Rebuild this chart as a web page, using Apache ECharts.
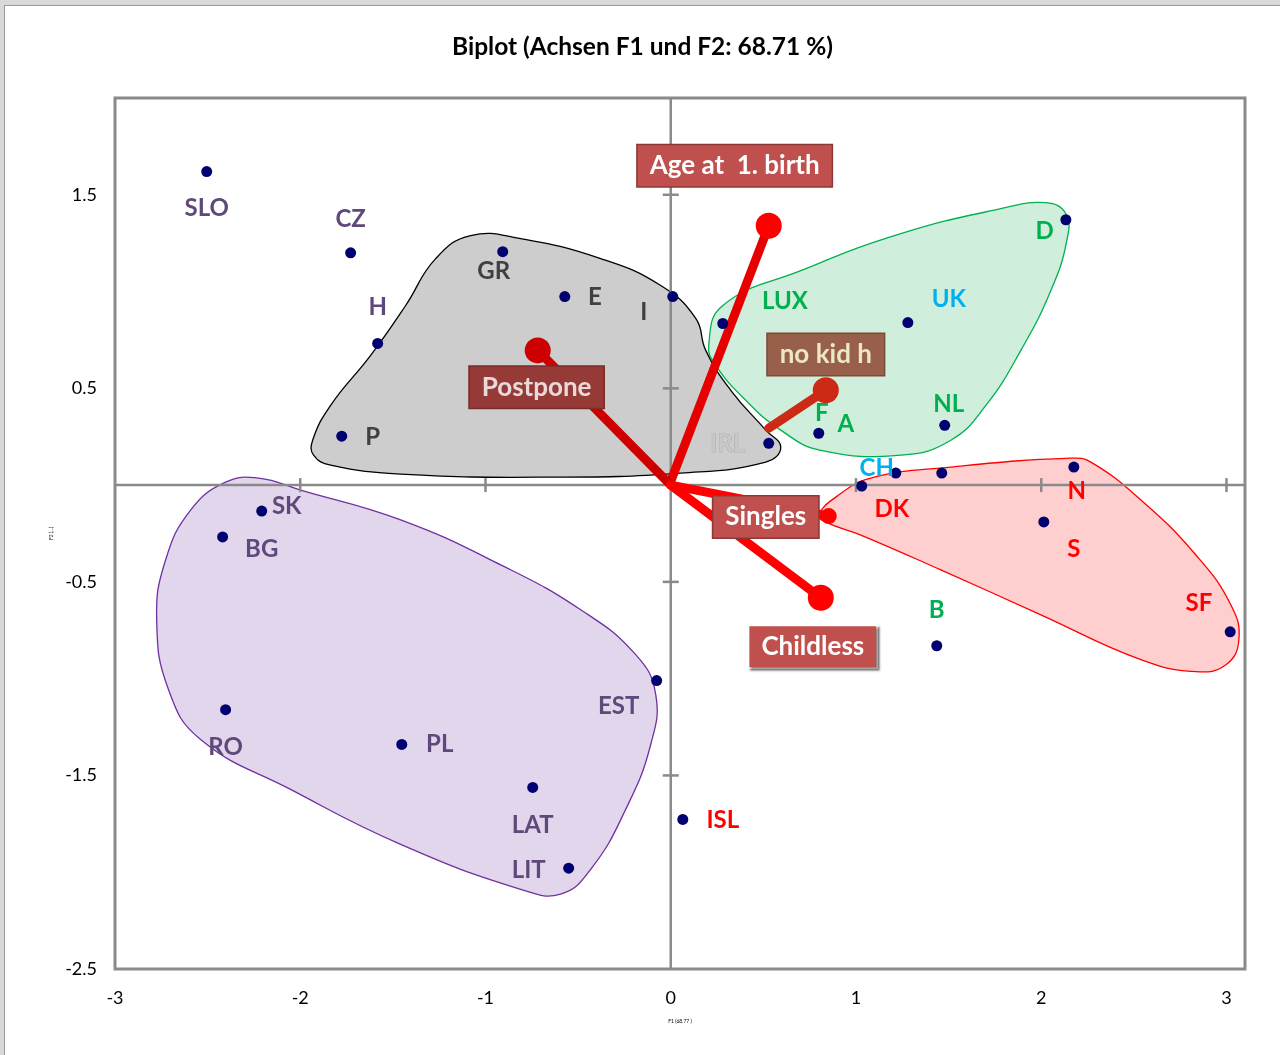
<!DOCTYPE html>
<html><head><meta charset="utf-8">
<script src="https://cdn.jsdelivr.net/npm/echarts@6/dist/echarts.min.js"></script>
<style>
html,body{margin:0;padding:0;background:#d9d9d9;overflow:hidden;}
#frame{position:absolute;left:4px;top:5px;width:1276px;height:1050px;background:#fff;border-left:1px solid #9a9a9a;border-top:1px solid #9a9a9a;}
#chart{width:1275px;height:1049px;}
</style></head><body><div id="frame"><div id="chart"></div></div>
<script>
// ---------- DATA ----------
const pointNames = ['SLO','CZ','GR','E','I','H','P','LUX','UK','D','NL','A','IRL','F','CH','DK','N','S','SF','B','SK','BG','RO','PL','LAT','LIT','EST','ISL'];
const pointX = [-2.505,-1.728,-0.907,-0.572,0.011,-1.582,-1.776,0.281,1.28,2.133,1.479,0.799,0.529,1.031,1.215,1.463,2.176,2.014,3.02,1.436,-2.208,-2.419,-2.403,-1.452,-0.745,-0.551,-0.076,0.065];
const pointY = [1.62,1.20,1.206,0.974,0.974,0.732,0.253,0.835,0.84,1.371,0.309,0.268,0.216,-0.005,0.062,0.062,0.093,-0.19,-0.758,-0.83,-0.134,-0.268,-1.16,-1.34,-1.562,-1.979,-1.01,-1.727];

const labelText = ['SLO','CZ','H','GR','E','I','P','LUX','UK','D','NL','F','A','IRL','CH','DK','N','S','SF','B','SK','BG','RO','PL','EST','LAT','LIT','ISL'];
const labelX = [-2.505,-1.728,-1.582,-0.956,-0.41,-0.146,-1.609,0.616,1.501,2.019,1.501,0.815,0.945,0.308,1.112,1.193,2.192,2.176,2.851,1.436,-2.073,-2.208,-2.403,-1.247,-0.281,-0.745,-0.767,0.281];
const labelY = [1.428,1.376,0.918,1.103,0.969,0.892,0.247,0.948,0.959,1.309,0.418,0.371,0.314,0.211,0.088,-0.124,-0.031,-0.33,-0.608,-0.649,-0.108,-0.33,-1.356,-1.34,-1.144,-1.758,-1.99,-1.732];
const labelGroup = ['east','east','east','south','south','south','south','west','cyan','west','west','west','west','irl','cyan','north','north','north','north','west','east','east','east','east','east','east','east','north'];

const vecNames = ['Age at  1. birth','Postpone','no kid h','Singles','Childless'];
const vecStartX = [0,0,0.529,0,0];
const vecStartY = [0.02,0,0.294,0,0];
const vecEndX = [0.529,-0.718,0.837,0.853,0.81];
const vecEndY = [1.34,0.696,0.49,-0.16,-0.582];
const boxX = [0.345,-0.724,0.837,0.513,0.767];
const boxY = [1.65,0.505,0.675,-0.165,-0.835];

// group outlines (data coordinates)
const southHullX = [-1.933,-1.836,-1.620,-1.431,-1.269,-1.080,-0.810,-0.378,-0.054,0.135,0.189,0.324,0.513,0.594,0.513,0.054,-0.648,-1.458,-1.836,-1.928];
const southHullY = [0.232,0.412,0.670,0.928,1.170,1.289,1.273,1.170,1.031,0.861,0.696,0.490,0.284,0.196,0.119,0.062,0.041,0.057,0.103,0.155];
const westHullX = [0.205,0.281,0.702,1.242,1.782,2.025,2.133,2.138,2.052,1.890,1.701,1.512,1.242,0.810,0.594,0.405,0.243];
const westHullY = [0.722,0.928,1.108,1.299,1.428,1.459,1.402,1.263,1.005,0.696,0.412,0.232,0.155,0.180,0.284,0.438,0.619];
const northHullX = [0.799,0.891,1.080,1.512,2.160,2.268,2.538,2.835,3.024,3.067,2.997,2.835,2.538,1.998,1.458,1.026,0.837];
const northHullY = [-0.155,-0.062,0.036,0.093,0.139,0.119,-0.077,-0.361,-0.619,-0.799,-0.928,-0.964,-0.902,-0.670,-0.438,-0.258,-0.191];
const eastHullX = [-2.225,-1.998,-1.458,-0.918,-0.486,-0.189,-0.081,-0.108,-0.243,-0.432,-0.594,-0.810,-1.458,-2.052,-2.538,-2.711,-2.775,-2.727,-2.592,-2.403];
const eastHullY = [0.036,-0.026,-0.180,-0.412,-0.644,-0.876,-1.082,-1.340,-1.675,-1.985,-2.113,-2.088,-1.856,-1.572,-1.314,-1.057,-0.696,-0.387,-0.129,0.015];

const xTickVals = [-2,-1,1,2,3];
const yTickVals = [-1.5,-0.5,0.5,1.5];

// ---------- STYLE ----------
const FONT = 'Lato';
const groupColor = {east:'#5f497a', south:'#404040', west:'#00b050', cyan:'#00b0f0', north:'#ff0000', irl:'#c8c8c8'};
const vecLineColor = ['#e60000','#cc0000','#cc2a14','#ff0000','#ff0000'];
const vecDotColor = ['#ff0000','#cc0000','#cc2a14','#ff0000','#ff0000'];
const vecDotSize = [26,26,26,16,26];
const boxStyle = [
  {bg:'#c0504d', border:'#8c3836', color:'#ffffff'},
  {bg:'#963a37', border:'#7a2c2a', color:'#ead9d9'},
  {bg:'#98604a', border:'#7a4a38', color:'#ece8c6'},
  {bg:'#c0504d', border:'#8c3836', color:'#ffffff'},
  {bg:'#c0504d', border:'#ffffff', color:'#ffffff'}
];

function hull(xs, ys, fill, stroke, z) {
  return {
    type:'custom', coordinateSystem:'cartesian2d', z:z, silent:true, clip:false,
    data:[[0,0]],
    renderItem:function(params, api){
      const pts = xs.map((x,i)=>api.coord([x, ys[i]]));
      return {type:'polygon', shape:{points:pts, smooth:0.45}, style:{fill:fill, stroke:stroke, lineWidth:1.3}};
    }
  };
}

const series = [];
series.push(hull(southHullX, southHullY, '#cdcdcd', '#000000', 1));
series.push(hull(westHullX, westHullY, 'rgba(140,215,170,0.42)', '#00b050', 2));
series.push(hull(northHullX, northHullY, 'rgba(255,160,160,0.5)', '#ff0000', 2));
series.push(hull(eastHullX, eastHullY, 'rgba(200,180,220,0.55)', '#7030a0', 2));

// zero lines with ticks
series.push({
  type:'custom', coordinateSystem:'cartesian2d', z:3, silent:true, clip:false,
  data:[[0,0]],
  renderItem:function(params, api){
    const children = [];
    const s = {stroke:'#8a8a8a', lineWidth:2.5};
    const l = api.coord([-3,0]), r = api.coord([3.1,0]);
    const t = api.coord([0,2.0]), b = api.coord([0,-2.5]);
    children.push({type:'line', shape:{x1:l[0],y1:l[1],x2:r[0],y2:r[1]}, style:s});
    children.push({type:'line', shape:{x1:t[0],y1:t[1],x2:b[0],y2:b[1]}, style:s});
    xTickVals.forEach(v=>{const p=api.coord([v,0]); children.push({type:'line', shape:{x1:p[0],y1:p[1]-7,x2:p[0],y2:p[1]+7}, style:s});});
    yTickVals.forEach(v=>{const p=api.coord([0,v]); children.push({type:'line', shape:{x1:p[0]-8,y1:p[1],x2:p[0]+8,y2:p[1]}, style:s});});
    return {type:'group', children:children};
  }
});

// vectors
vecNames.forEach((n,i)=>{
  series.push({
    type:'line', z:5, silent:true, symbol:'none', animation:false,
    data:[[vecStartX[i],vecStartY[i]],[vecEndX[i],vecEndY[i]]],
    lineStyle:{color:vecLineColor[i], width:9, cap:'round', opacity:1}
  });
  series.push({
    type:'scatter', z:5, silent:true, symbolSize:vecDotSize[i],
    data:[[vecEndX[i],vecEndY[i]]],
    itemStyle:{color:vecDotColor[i], opacity:1}
  });
});

// points
series.push({
  type:'scatter', z:6, symbolSize:11, silent:true,
  data:pointNames.map((n,i)=>({name:n, value:[pointX[i],pointY[i]]})),
  itemStyle:{color:'#000070', opacity:1}
});

// country labels
series.push({
  type:'scatter', z:7, symbolSize:1, silent:true,
  data:labelText.map((t,i)=>({name:t, value:[labelX[i],labelY[i]],
    label:{color:groupColor[labelGroup[i]],
      textBorderColor: labelGroup[i]==='irl' ? '#999' : 'transparent',
      textBorderWidth: labelGroup[i]==='irl' ? 0.6 : 0}})),
  itemStyle:{color:'#ffffff', opacity:0},
  label:{show:true, position:'inside', formatter:'{b}', fontFamily:FONT, fontWeight:'bold', fontSize:24, opacity:1}
});

// vector label boxes
series.push({
  type:'scatter', z:8, symbolSize:1, silent:true,
  data:vecNames.map((n,i)=>({name:n, value:[boxX[i],boxY[i]],
    label:{backgroundColor:boxStyle[i].bg, borderColor:boxStyle[i].border, color:boxStyle[i].color,
      shadowColor: i===4 ? 'rgba(0,0,0,0.45)' : 'transparent', shadowOffsetX: i===4?2:0, shadowOffsetY: i===4?2:0, shadowBlur: i===4?2:0}})),
  itemStyle:{color:'#ffffff', opacity:0},
  label:{show:true, position:'inside', formatter:'{b}', fontFamily:FONT, fontWeight:'bold', fontSize:26, opacity:1,
    borderWidth:1.5, padding:[8,12,7,12]}
});

const chart = echarts.init(document.getElementById('chart'), null, {renderer:'canvas'});
chart.setOption({
  animation:false,
  backgroundColor:'#ffffff',
  title:{text:'Biplot (Achsen F1 und F2: 68.71 %)', left:'center', top:24,
    textStyle:{fontFamily:FONT, fontWeight:'bold', fontSize:24.5, color:'#000'}},
  grid:{left:110, right:35, top:92, bottom:86, show:true, borderColor:'#8a8a8a', borderWidth:3, backgroundColor:'transparent'},
  xAxis:{type:'value', min:-3, max:3.1, interval:1,
    name:'F1 (68.77 )', nameLocation:'middle', nameGap:50, nameTextStyle:{fontSize:5, fontFamily:FONT, color:'#000'},
    axisLine:{show:false}, axisTick:{show:false}, splitLine:{show:false},
    axisLabel:{fontFamily:FONT, fontSize:18, color:'#000', margin:20,
      formatter:v=> Math.abs(v-Math.round(v))<1e-6 ? String(Math.round(v)) : ''}},
  yAxis:{type:'value', min:-2.5, max:2.0, interval:0.5,
    name:'F2 (...)', nameLocation:'middle', nameGap:58, nameTextStyle:{fontSize:5, fontFamily:FONT, color:'#000'},
    axisLine:{show:false}, axisTick:{show:false}, splitLine:{show:false},
    axisLabel:{fontFamily:FONT, fontSize:18, color:'#000', margin:18,
      formatter:v=>{const r=Math.round(v*2); return (Math.abs(r%2)===1) ? v.toFixed(1) : '';}}},
  series:series
});
</script></body></html>
